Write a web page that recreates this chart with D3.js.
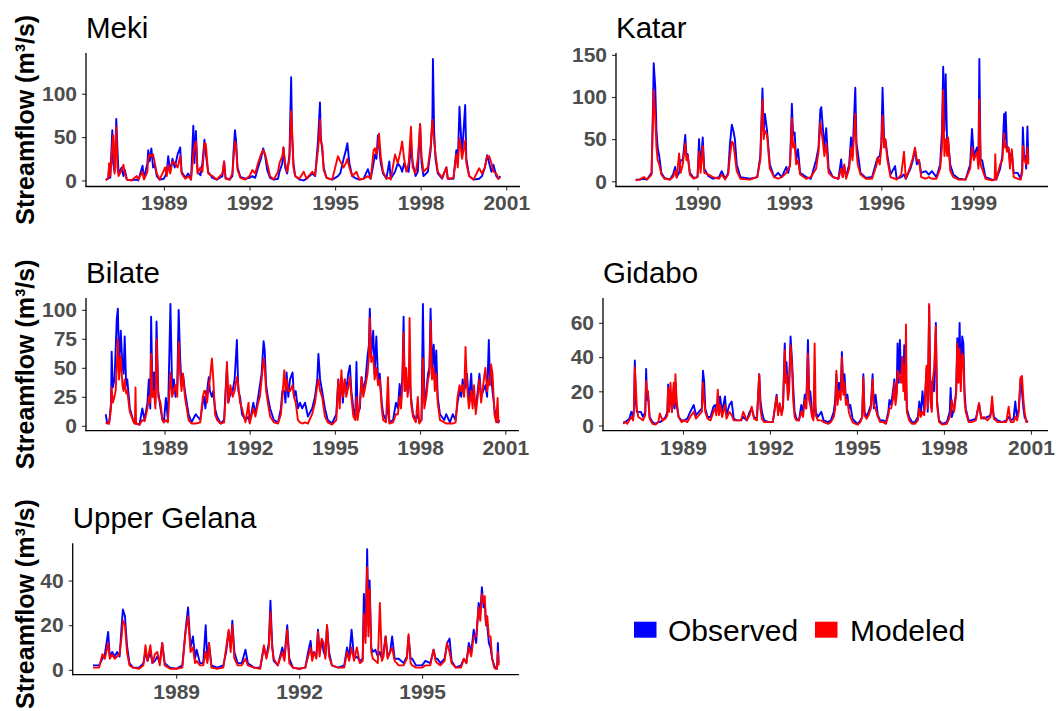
<!DOCTYPE html>
<html>
<head>
<meta charset="utf-8">
<script src="https://cdn.jsdelivr.net/npm/d3@7"></script>
<style>
  html, body { margin: 0; padding: 0; background: #ffffff; }
  svg { display: block; font-family: "Liberation Sans", Arial, sans-serif; }
</style>
</head>
<body>
<svg id="chart" width="1060" height="711"></svg>
<script>
// ---------- DATA: rows are [decimal year, observed (m3/s), modeled (m3/s)] ----------
const mekiRows = [
[1986.96,1,0],[1987.05,2,3],[1987.08,18,20],[1987.12,3,5],[1987.19,58,40],[1987.22,20,52],[1987.27,10,8],[1987.33,71,62],[1987.37,37,15],[1987.41,8,5],[1987.52,15,12],[1987.58,5,18],[1987.63,12,8],[1987.70,1,1],[1987.85,0,0],
[1988.05,1,5],[1988.10,0,1],[1988.25,17,10],[1988.30,2,1],[1988.42,20,10],[1988.45,35,25],[1988.50,22,30],[1988.56,37,28],[1988.62,15,30],[1988.68,18,20],[1988.75,5,8],[1988.85,1,1],
[1989.00,2,12],[1989.04,5,15],[1989.10,10,5],[1989.15,28,18],[1989.22,10,8],[1989.30,25,22],[1989.38,15,20],[1989.48,30,15],[1989.57,38,28],[1989.62,10,8],[1989.75,3,2],[1989.85,8,5],[1989.95,1,1],
[1990.03,63,30],[1990.07,20,40],[1990.12,57,45],[1990.18,10,8],[1990.28,6,15],[1990.35,20,10],[1990.42,47,43],[1990.47,30,42],[1990.55,10,8],[1990.70,3,5],[1990.85,1,1],
[1991.05,5,8],[1991.11,22,22],[1991.16,3,2],[1991.30,1,1],[1991.40,5,8],[1991.44,33,25],[1991.49,58,45],[1991.53,45,38],[1991.58,15,12],[1991.68,4,3],[1991.85,2,1],
[1992.00,3,5],[1992.10,5,12],[1992.20,3,8],[1992.30,15,20],[1992.40,25,30],[1992.48,37,35],[1992.55,28,30],[1992.62,12,20],[1992.72,3,5],[1992.85,1,1],
[1993.00,2,10],[1993.05,10,20],[1993.15,20,28],[1993.19,38,38],[1993.25,15,20],[1993.32,8,10],[1993.40,30,25],[1993.46,119,80],[1993.49,55,60],[1993.54,20,15],[1993.60,5,5],[1993.75,1,2],[1993.90,0,10],
[1994.00,2,2],[1994.20,8,10],[1994.30,5,6],[1994.40,45,35],[1994.44,70,50],[1994.47,90,70],[1994.50,50,45],[1994.55,35,40],[1994.60,15,12],[1994.70,3,3],[1994.90,1,1],
[1995.10,5,28],[1995.18,8,22],[1995.30,25,15],[1995.38,35,20],[1995.43,43,25],[1995.50,20,15],[1995.60,5,5],[1995.75,2,10],[1995.85,1,1],
[1996.00,2,2],[1996.15,13,5],[1996.25,2,2],[1996.35,20,35],[1996.40,30,37],[1996.45,25,30],[1996.50,52,40],[1996.54,40,54],[1996.60,20,28],[1996.68,8,10],[1996.80,2,2],[1996.90,22,3],[1996.95,2,1],
[1997.10,10,30],[1997.20,20,20],[1997.30,15,35],[1997.35,10,45],[1997.42,20,25],[1997.50,12,10],[1997.58,10,20],[1997.66,40,62],[1997.72,20,15],[1997.82,5,8],[1997.90,10,25],[1997.98,65,65],
[1998.03,20,28],[1998.10,5,10],[1998.25,10,15],[1998.35,35,40],[1998.41,70,70],[1998.43,140,60],[1998.47,58,45],[1998.52,25,30],[1998.60,8,10],[1998.75,2,3],[1998.90,15,15],[1998.95,2,2],
[1999.15,2,3],[1999.25,35,30],[1999.30,20,15],[1999.36,85,49],[1999.40,60,40],[1999.45,30,25],[1999.56,87,46],[1999.60,25,20],[1999.70,5,5],[1999.85,1,1],
[2000.05,2,14],[2000.15,5,8],[2000.25,15,15],[2000.33,29,28],[2000.40,20,28],[2000.48,10,20],[2000.55,18,10],[2000.65,5,8],[2000.72,2,2],[2000.79,5,3]
];

const katarRows = [
[1987.98,2,1],[1988.10,2,2],[1988.25,3,5],[1988.35,2,2],[1988.50,10,8],[1988.55,95,80],[1988.57,140,108],[1988.62,112,75],[1988.66,60,40],[1988.70,40,25],[1988.75,30,20],[1988.82,10,8],[1988.92,4,3],
[1989.10,2,2],[1989.20,8,5],[1989.27,17,12],[1989.32,5,4],[1989.40,10,33],[1989.45,25,10],[1989.52,25,20],[1989.60,55,45],[1989.64,30,25],[1989.68,32,30],[1989.75,10,8],[1989.87,4,3],
[1990.00,5,5],[1990.05,50,35],[1990.10,15,10],[1990.17,52,42],[1990.22,15,10],[1990.36,6,8],[1990.50,3,5],[1990.70,5,3],[1990.79,12,8],[1990.90,3,2],
[1991.00,10,8],[1991.06,45,30],[1991.12,67,47],[1991.17,60,45],[1991.22,50,30],[1991.28,20,12],[1991.40,5,3],[1991.71,3,2],[1991.95,5,5],
[1992.05,30,25],[1992.12,110,97],[1992.16,60,50],[1992.20,80,60],[1992.27,60,55],[1992.36,20,15],[1992.50,5,5],[1992.63,10,3],[1992.75,5,5],[1992.90,17,10],[1992.96,10,15],
[1993.02,20,18],[1993.08,92,75],[1993.12,55,40],[1993.17,58,45],[1993.22,25,20],[1993.28,38,25],[1993.35,10,8],[1993.55,5,3],[1993.70,3,5],[1993.87,25,15],[1993.95,40,35],
[1994.01,85,70],[1994.04,88,60],[1994.09,64,48],[1994.14,40,30],[1994.20,63,45],[1994.28,15,10],[1994.42,5,5],[1994.60,3,3],[1994.69,26,15],[1994.74,5,5],[1994.79,18,20],[1994.85,5,3],[1994.95,20,15],
[1995.01,52,40],[1995.06,30,25],[1995.15,111,80],[1995.19,45,35],[1995.23,35,20],[1995.32,10,8],[1995.50,4,3],[1995.70,5,3],[1995.85,25,20],[1995.88,28,28],[1995.95,30,20],
[1996.00,45,40],[1996.04,111,78],[1996.09,50,40],[1996.13,50,50],[1996.20,30,25],[1996.30,8,5],[1996.45,18,3],[1996.50,3,2],[1996.65,5,8],[1996.74,8,35],[1996.80,3,3],[1996.95,15,18],
[1997.03,25,28],[1997.10,38,40],[1997.16,20,25],[1997.23,25,25],[1997.30,10,5],[1997.45,12,3],[1997.55,8,5],[1997.65,12,3],[1997.80,5,3],[1997.92,20,15],[1997.98,60,40],
[1998.02,136,108],[1998.06,60,30],[1998.10,127,50],[1998.15,40,30],[1998.18,48,52],[1998.25,20,12],[1998.35,8,5],[1998.53,3,2],[1998.75,2,2],[1998.90,20,15],[1998.96,62,40],
[1999.02,30,25],[1999.12,40,35],[1999.17,20,15],[1999.20,145,97],[1999.24,25,20],[1999.29,25,15],[1999.40,5,3],[1999.61,2,1],[1999.70,2,2],[1999.72,3,32],[1999.75,2,2],[1999.88,15,20],[1999.95,30,25],
[2000.01,80,57],[2000.04,50,40],[2000.06,82,45],[2000.10,40,35],[2000.15,40,40],[2000.20,25,15],[2000.26,35,38],[2000.32,10,5],[2000.45,10,3],[2000.55,3,2],[2000.60,15,10],[2000.62,64,42],[2000.66,30,25],[2000.69,30,25],[2000.73,15,20],[2000.77,65,40],[2000.80,25,20]
];

const bilateRows = [
[1986.93,10,3],[1986.98,3,2],[1987.05,2,2],[1987.12,20,15],[1987.14,64,33],[1987.18,33,20],[1987.24,40,25],[1987.28,65,30],[1987.32,92,50],[1987.36,101,75],[1987.40,50,40],[1987.46,82,60],[1987.52,52,35],[1987.56,45,30],[1987.60,77,40],[1987.65,35,28],[1987.69,40,30],[1987.78,15,12],[1987.92,3,3],[1987.96,2,2],[1987.98,2,33],
[1988.00,2,2],[1988.12,1,1],[1988.22,15,5],[1988.30,5,4],[1988.40,20,15],[1988.45,40,25],[1988.50,15,20],[1988.53,94,62],[1988.58,25,25],[1988.63,46,30],[1988.68,20,15],[1988.72,90,75],[1988.78,30,25],[1988.86,15,20],[1988.93,5,5],[1988.98,3,3],
[1989.05,24,5],[1989.12,5,3],[1989.21,105,46],[1989.27,30,25],[1989.33,40,30],[1989.39,25,35],[1989.45,35,25],[1989.50,100,72],[1989.55,60,45],[1989.60,35,30],[1989.65,45,45],[1989.72,30,25],[1989.85,10,5],[1989.95,3,2],
[1990.10,10,2],[1990.26,5,3],[1990.35,20,25],[1990.40,25,30],[1990.44,15,30],[1990.50,30,20],[1990.56,42,35],[1990.60,30,40],[1990.67,25,58],[1990.72,30,40],[1990.78,15,10],[1990.85,8,5],[1990.98,2,2],
[1991.10,5,3],[1991.15,30,25],[1991.20,50,55],[1991.25,20,20],[1991.32,28,35],[1991.40,30,25],[1991.47,40,30],[1991.55,74,42],[1991.60,30,35],[1991.66,25,20],[1991.73,10,15],[1991.85,5,3],[1991.96,8,20],
[1992.00,3,2],[1992.13,20,15],[1992.20,10,8],[1992.30,25,20],[1992.36,35,25],[1992.42,45,40],[1992.49,73,58],[1992.53,65,50],[1992.58,35,30],[1992.64,25,20],[1992.72,15,8],[1992.85,5,3],
[1993.00,3,2],[1993.10,15,10],[1993.15,30,25],[1993.22,30,48],[1993.26,20,30],[1993.30,46,40],[1993.36,25,30],[1993.42,40,30],[1993.51,46,35],[1993.56,25,25],[1993.62,30,20],[1993.70,15,5],[1993.77,20,3],[1993.85,15,2],[1993.95,20,3],
[1994.05,8,2],[1994.20,15,10],[1994.30,25,20],[1994.38,40,35],[1994.42,62,40],[1994.48,40,30],[1994.55,30,25],[1994.65,15,8],[1994.75,5,3],[1994.90,2,1],
[1995.05,10,5],[1995.12,40,40],[1995.17,20,15],[1995.23,42,48],[1995.28,20,25],[1995.35,40,40],[1995.40,30,25],[1995.47,45,33],[1995.53,52,42],[1995.58,30,25],[1995.65,15,8],[1995.72,8,5],[1995.76,55,25],[1995.80,10,5],[1995.88,15,20],[1995.94,42,42],
[1996.00,30,25],[1996.08,40,35],[1996.15,60,45],[1996.20,70,60],[1996.23,101,93],[1996.28,60,55],[1996.35,82,60],[1996.40,45,40],[1996.46,77,50],[1996.52,40,35],[1996.58,45,40],[1996.65,20,15],[1996.70,10,5],[1996.80,5,3],[1996.87,20,42],[1996.92,3,2],
[1997.05,5,3],[1997.15,20,10],[1997.22,15,10],[1997.28,36,25],[1997.33,20,15],[1997.38,45,40],[1997.42,94,80],[1997.46,30,30],[1997.51,43,50],[1997.56,30,25],[1997.60,35,35],[1997.63,40,93],[1997.68,25,20],[1997.75,10,8],[1997.85,5,3],[1997.92,10,25],[1997.97,3,2],
[1998.05,5,5],[1998.10,105,58],[1998.15,20,15],[1998.22,30,25],[1998.28,45,40],[1998.33,50,45],[1998.37,101,90],[1998.42,50,40],[1998.48,70,50],[1998.52,40,30],[1998.57,65,45],[1998.62,25,20],[1998.70,10,5],[1998.85,5,3],[1998.92,10,2],
[1999.05,3,2],[1999.15,10,2],[1999.25,5,3],[1999.32,20,25],[1999.39,30,35],[1999.45,25,30],[1999.50,40,35],[1999.55,30,25],[1999.60,35,68],[1999.65,45,35],[1999.72,20,15],[1999.80,45,30],[1999.85,20,15],[1999.90,25,35],[1999.96,15,10],
[2000.03,30,25],[2000.09,45,40],[2000.15,25,20],[2000.22,30,35],[2000.30,35,50],[2000.36,25,30],[2000.42,74,40],[2000.46,40,35],[2000.50,45,53],[2000.55,30,45],[2000.62,15,10],[2000.68,5,3],[2000.73,3,24],[2000.76,3,3],[2000.79,5,3]
];

const gidaboRows = [
[1986.94,2,1],[1987.00,2,2],[1987.08,3,1],[1987.15,4,3],[1987.22,8,5],[1987.28,5,3],[1987.31,10,8],[1987.34,38,34],[1987.37,15,25],[1987.41,8,10],[1987.46,8,5],[1987.55,8,4],[1987.62,5,3],[1987.70,8,6],[1987.73,33,26],[1987.76,15,20],[1987.79,20,20],[1987.85,5,4],[1987.95,2,1],
[1988.05,1,0.5],[1988.15,2,2],[1988.20,2,7],[1988.30,3,3],[1988.40,5,4],[1988.46,8,6],[1988.49,24,22],[1988.52,10,8],[1988.57,20,25],[1988.62,8,8],[1988.68,22,25],[1988.71,10,12],[1988.74,25,30],[1988.78,12,15],[1988.85,5,5],[1988.95,3,2],
[1989.05,3,3],[1989.15,4,2],[1989.25,8,5],[1989.37,12,8],[1989.45,6,4],[1989.55,8,6],[1989.65,10,8],[1989.69,32,25],[1989.73,26,15],[1989.77,10,8],[1989.85,5,4],[1989.95,5,3],
[1990.05,11,8],[1990.11,12,10],[1990.15,8,6],[1990.20,12,21],[1990.24,8,6],[1990.28,17,12],[1990.35,8,5],[1990.45,17,12],[1990.50,6,4],[1990.60,12,8],[1990.68,14,6],[1990.75,4,3],[1990.85,3,3],
[1991.00,3,3],[1991.08,5,8],[1991.20,3,3],[1991.30,8,6],[1991.37,10,11],[1991.45,5,4],[1991.55,4,3],[1991.63,30,30],[1991.67,15,10],[1991.72,8,4],[1991.80,3,2],[1991.95,2,2],
[1992.10,2,2],[1992.23,18,17],[1992.28,8,6],[1992.34,10,13],[1992.40,8,6],[1992.45,12,10],[1992.51,48,44],[1992.54,30,25],[1992.57,37,30],[1992.62,20,15],[1992.66,25,20],[1992.71,52,47],[1992.76,38,35],[1992.80,23,15],[1992.85,8,5],[1992.91,4,3],
[1993.00,3,3],[1993.08,12,8],[1993.14,8,5],[1993.20,18,15],[1993.25,10,10],[1993.31,50,42],[1993.35,20,15],[1993.39,20,12],[1993.45,8,5],[1993.50,5,3],[1993.54,15,48],[1993.58,8,6],[1993.65,5,3],[1993.77,8,3],[1993.85,3,2],
[1994.00,2,1],[1994.10,3,2],[1994.20,8,5],[1994.25,15,10],[1994.29,30,32],[1994.33,15,12],[1994.38,25,20],[1994.44,20,15],[1994.48,43,40],[1994.53,20,18],[1994.57,30,25],[1994.62,15,12],[1994.67,18,15],[1994.72,10,8],[1994.77,12,5],[1994.85,4,2],[1994.95,2,1],
[1995.03,1,0.5],[1995.12,3,2],[1995.18,5,5],[1995.22,30,28],[1995.26,8,6],[1995.33,5,4],[1995.40,8,6],[1995.48,12,10],[1995.54,30,27],[1995.58,10,12],[1995.64,18,10],[1995.72,6,5],[1995.80,3,2],[1995.90,3,2],
[1996.00,2,1],[1996.08,8,6],[1996.12,15,10],[1996.18,12,10],[1996.24,20,15],[1996.29,27,25],[1996.33,15,12],[1996.37,20,18],[1996.40,48,32],[1996.44,25,30],[1996.48,50,28],[1996.52,30,25],[1996.57,40,40],[1996.60,25,20],[1996.63,47,35],[1996.66,20,15],[1996.69,30,59],[1996.72,10,8],[1996.80,5,3],[1996.90,2,1],
[1997.00,2,1],[1997.10,5,3],[1997.15,14,10],[1997.20,6,5],[1997.26,20,8],[1997.32,8,6],[1997.40,33,35],[1997.44,8,10],[1997.49,70,71],[1997.53,20,15],[1997.58,10,8],[1997.60,26,25],[1997.66,20,33],[1997.72,60,58],[1997.76,15,12],[1997.83,3,2],[1997.95,1,0.5],
[1998.10,2,1],[1998.20,8,5],[1998.23,22,8],[1998.27,5,15],[1998.35,10,8],[1998.42,20,18],[1998.46,51,48],[1998.50,30,25],[1998.54,60,45],[1998.58,25,20],[1998.63,52,42],[1998.67,48,40],[1998.71,20,15],[1998.75,10,8],[1998.85,3,2],[1998.95,3,2],
[1999.10,4,3],[1999.21,13,13],[1999.28,5,4],[1999.38,4,5],[1999.50,5,3],[1999.60,6,5],[1999.66,12,17],[1999.72,5,4],[1999.85,3,2],
[2000.00,2,2],[2000.15,3,2],[2000.23,5,11],[2000.30,3,2],[2000.40,4,2],[2000.46,14,5],[2000.52,4,3],[2000.58,10,8],[2000.64,27,28],[2000.69,20,29],[2000.74,10,15],[2000.78,5,8],[2000.84,3,2],[2000.89,2,2]
];

const gelanaRows = [
[1986.97,2,1],[1987.05,2,1],[1987.12,2,1],[1987.20,5,7],[1987.26,7,5],[1987.34,17,12],[1987.38,6,5],[1987.44,8,7],[1987.50,6,5],[1987.56,8,6],[1987.62,6,7],[1987.67,20,15],[1987.70,27,22],[1987.75,24,20],[1987.80,11,8],[1987.86,3,2],[1987.95,1,1],
[1988.10,1,0.5],[1988.20,3,2],[1988.25,8,11],[1988.30,4,4],[1988.37,8,11],[1988.42,3,3],[1988.48,4,7],[1988.54,6,8],[1988.60,3,2],[1988.66,12,12],[1988.72,3,2],[1988.85,1,0.5],
[1989.00,0.5,0.5],[1989.15,2,1],[1989.23,18,17],[1989.29,28,24],[1989.35,10,8],[1989.41,15,10],[1989.46,5,3],[1989.50,9,4],[1989.58,3,2],[1989.66,3,2],[1989.72,20,8],[1989.76,4,3],[1989.80,12,12],[1989.86,2,1],
[1990.00,1,0.5],[1990.15,2,1],[1990.22,8,10],[1990.28,17,18],[1990.33,10,8],[1990.37,22,20],[1990.42,8,5],[1990.50,3,2],[1990.60,3,2],[1990.69,9,5],[1990.75,3,2],[1990.90,1,1],
[1991.05,1,0.5],[1991.14,10,11],[1991.20,6,5],[1991.26,12,10],[1991.30,31,26],[1991.34,12,10],[1991.38,4,5],[1991.48,2,2],[1991.59,10,8],[1991.64,5,4],[1991.71,20,18],[1991.76,5,3],[1991.85,1,1],
[1992.00,0.5,0.5],[1992.15,1,1],[1992.22,8,6],[1992.28,13,10],[1992.32,5,4],[1992.36,8,8],[1992.42,6,5],[1992.46,18,17],[1992.50,8,6],[1992.55,13,14],[1992.60,8,12],[1992.64,6,5],[1992.68,20,20],[1992.73,8,6],[1992.80,2,2],[1992.95,1,1],
[1993.10,2,1],[1993.17,10,8],[1993.22,5,4],[1993.28,18,10],[1993.34,5,4],[1993.41,6,10],[1993.48,4,3],[1993.55,5,4],[1993.58,34,25],[1993.62,15,12],[1993.66,54,46],[1993.69,20,15],[1993.72,40,36],[1993.76,10,8],[1993.80,8,5],[1993.86,9,4],[1993.92,6,3],[1993.97,8,30],
[1994.02,5,4],[1994.06,8,6],[1994.11,15,15],[1994.16,6,5],[1994.22,8,8],[1994.27,15,10],[1994.33,5,4],[1994.43,5,2],[1994.55,3,2],[1994.63,6,5],[1994.67,15,16],[1994.72,5,3],[1994.76,5,2],[1994.85,2,1],
[1995.00,2,1],[1995.08,4,2],[1995.20,3,2],[1995.28,9,9],[1995.33,5,4],[1995.37,5,3],[1995.45,3,2],[1995.55,5,4],[1995.61,12,12],[1995.67,14,8],[1995.72,4,3],[1995.82,1,1],[1995.95,2,1],
[1996.02,5,5],[1996.08,3,3],[1996.14,12,10],[1996.20,8,6],[1996.26,18,15],[1996.32,12,15],[1996.38,30,28],[1996.42,25,22],[1996.46,37,34],[1996.50,28,30],[1996.53,30,33],[1996.56,20,20],[1996.59,20,24],[1996.63,12,15],[1996.67,10,15],[1996.71,5,5],[1996.76,2,1],[1996.79,1,0.5],[1996.83,0.5,0.5],[1996.85,12,8],[1996.87,3,2]
];

// tick values
const ticksMeki = [1989, 1992, 1995, 1998, 2001];
const ticksKatar = [1990, 1993, 1996, 1999];
const ticksBilate = [1989, 1992, 1995, 1998, 2001];
const ticksGidabo = [1989, 1992, 1995, 1998, 2001];
const ticksGelana = [1989, 1992, 1995];
const yTicksMeki = [0, 50, 100];
const yTicksKatar = [0, 50, 100, 150];
const yTicksBilate = [0, 25, 50, 75, 100];
const yTicksGidabo = [0, 20, 40, 60];
const yTicksGelana = [0, 20, 40];

const seriesNames = ["Observed", "Modeled"];
const seriesColors = ["#0000FF", "#FF0000"];
const yTitle = "Streamflow (m\u00B3/s)";

// ---------- LAYOUT ----------
const panels = [
  { title: "Meki",         rows: mekiRows,   xt: ticksMeki,   yt: yTicksMeki,   box: [86, 53, 520, 186.5],   ylab: 0 },
  { title: "Katar",        rows: katarRows,  xt: ticksKatar,  yt: yTicksKatar,  box: [616, 53, 1048, 186.5], ylab: null },
  { title: "Bilate",       rows: bilateRows, xt: ticksBilate, yt: yTicksBilate, box: [86, 298, 519, 430.7],  ylab: 0 },
  { title: "Gidabo",       rows: gidaboRows, xt: ticksGidabo, yt: yTicksGidabo, box: [603, 298, 1048, 430.7], ylab: null },
  { title: "Upper Gelana", rows: gelanaRows, xt: ticksGelana, yt: yTicksGelana, box: [72.7, 543.3, 519, 674.7], ylab: -5 }
];

const svg = d3.select("#chart");
svg.append("rect").attr("width", 1060).attr("height", 711).attr("fill", "#ffffff");

function expand(ext) {
  const r = ext[1] - ext[0];
  return [ext[0] - 0.05 * r, ext[1] + 0.05 * r];
}

panels.forEach(p => {
  const [x0, y0, x1, y1] = p.box;
  const tExt = d3.extent(p.rows, d => d[0]);
  const vMin = d3.min(p.rows, d => Math.min(d[1], d[2]));
  const vMax = d3.max(p.rows, d => Math.max(d[1], d[2]));
  const x = d3.scaleLinear().domain(expand(tExt)).range([x0, x1]);
  const y = d3.scaleLinear().domain(expand([vMin, vMax])).range([y1, y0]);
  const g = svg.append("g");

  // lines: observed first, modeled on top
  [1, 2].forEach((k, i) => {
    const line = d3.line().x(d => x(d[0])).y(d => y(d[k]));
    g.append("path").datum(p.rows)
      .attr("d", line)
      .attr("fill", "none")
      .attr("stroke", seriesColors[i])
      .attr("stroke-width", 1.9)
      .attr("stroke-linejoin", "round");
  });

  // axes
  const ax = d3.axisBottom(x).tickValues(p.xt).tickFormat(d3.format("d")).tickSize(4).tickPadding(5);
  const ay = d3.axisLeft(y).tickValues(p.yt).tickFormat(d3.format("d")).tickSize(4).tickPadding(5);
  const gx = g.append("g").attr("transform", `translate(0,${y1})`).call(ax);
  const gy = g.append("g").attr("transform", `translate(${x0},0)`).call(ay);
  [gx, gy].forEach(a => {
    a.select(".domain").remove();
    a.selectAll(".tick line").attr("stroke", "#333333").attr("stroke-width", 1.1);
    a.selectAll(".tick text")
      .attr("fill", "#4D4D4D")
      .style("font-family", "'Liberation Sans', Arial, sans-serif")
      .style("font-size", "21px")
      .style("font-weight", "bold");
  });
  g.append("line").attr("x1", x0).attr("x2", x0).attr("y1", y0).attr("y2", y1 + 0.6)
    .attr("stroke", "#000").attr("stroke-width", 1.3);
  g.append("line").attr("x1", x0 - 0.6).attr("x2", x1).attr("y1", y1).attr("y2", y1)
    .attr("stroke", "#000").attr("stroke-width", 1.3);

  // title
  g.append("text").attr("x", x0).attr("y", y0 - 15.5)
    .style("font-size", "29.5px").attr("fill", "#000").text(p.title);

  // y axis title
  if (p.ylab !== null) {
    g.append("text")
      .attr("transform", `translate(33.5,${(y0 + y1) / 2 + p.ylab}) rotate(-90)`)
      .attr("text-anchor", "middle")
      .style("font-size", "25px").style("font-weight", "bold")
      .attr("fill", "#000").text(yTitle);
  }
});

// legend
const legX = [634, 815];
const legText = [668, 850];
seriesNames.forEach((n, i) => {
  svg.append("rect").attr("x", legX[i]).attr("y", 621.7).attr("width", 22.5).attr("height", 16)
    .attr("fill", seriesColors[i]);
  svg.append("text").attr("x", legText[i]).attr("y", 640.7)
    .style("font-size", "30px").attr("fill", "#000").text(n);
});
</script>
</body>
</html>
